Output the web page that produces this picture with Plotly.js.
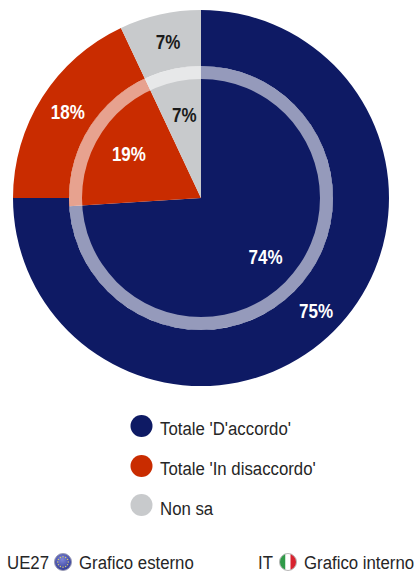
<!DOCTYPE html>
<html><head><meta charset="utf-8">
<script src="https://cdn.plot.ly/plotly-3.0.1.min.js"></script>
<style>html,body{margin:0;padding:0;background:#fff}#c{width:416px;height:572px}</style>
</head><body><div id="c"></div>
<script>
const categories = ["Totale 'D'accordo'", "Totale 'In disaccordo'", "Non sa"];
const outerValues = [75, 18, 7];
const innerValues = [74, 19, 7];
const colors = ['#0e1a64', '#c92c00', '#c8cacc'];
const labelColors = ['#ffffff', '#ffffff', '#1a1a1a'];
const legendX = [141.5, 141.5, 141.5];
const legendY = [426, 466, 505];
const legendTextY = [428, 468, 508];
const W = 416, H = 572, CX = 201, CY = 198;
const FONT = '"Liberation Sans", Arial, sans-serif';
function dom(r){return {x:[(CX-r)/W,(CX+r)/W], y:[1-(CY+r)/H,1-(CY-r)/H]};}
const pct = v => v.map(n => n + '%');
function pie(r, hole, vals, cols, text){
  return {type:'pie', values:vals, labels:categories, sort:false, direction:'clockwise', rotation:0,
    domain:dom(r), hole:hole, marker:{colors:cols, line:{width:0}},
    text:text||[], textinfo:text?'text':'none', textposition:text?'inside':'none',
    insidetextorientation:'horizontal', hoverinfo:'skip', showlegend:false,
    insidetextfont:{family:FONT,size:20,color:labelColors,weight:700}};
}
const clear = ['rgba(0,0,0,0)','rgba(0,0,0,0)','rgba(0,0,0,0)'];
const innerPct = pct(innerValues);
const traces = [
  pie(188, 132/188, outerValues, colors, pct(outerValues)),
  pie(132, 0, innerValues, colors),
  {type:'pie', values:[1], labels:['ring'], domain:dom(132), hole:119/132, sort:false,
   marker:{colors:['rgba(255,255,255,0.56)'], line:{width:0}}, textinfo:'none', textposition:'none', hoverinfo:'skip', showlegend:false},
  pie(119, 53/119, innerValues, clear, [innerPct[0], innerPct[1], '']),
  pie(104, 0.5, innerValues, clear, ['', '', innerPct[2]]),
  {type:'scatter', mode:'markers', x:legendX, y:legendY, xaxis:'x', yaxis:'y',
   marker:{size:22,color:colors,line:{width:0}}, cliponaxis:false, hoverinfo:'skip', showlegend:false}
];
const flagIT = '<svg xmlns="http://www.w3.org/2000/svg" width="36" height="36" viewBox="0 0 36 36"><defs><clipPath id="a"><circle cx="18" cy="18" r="17"/></clipPath></defs><g clip-path="url(#a)"><rect width="13" height="36" fill="#2f9a48"/><rect x="13" width="10" height="36" fill="#fff"/><rect x="23" width="13" height="36" fill="#d8232f"/></g><circle cx="18" cy="18" r="17" fill="none" stroke="#b8b8b8" stroke-width="2"/></svg>';
let stars='';
for(let k=0;k<12;k++){const a=k*Math.PI/6;stars+='<circle cx="'+(18+10.5*Math.cos(a))+'" cy="'+(18+10.5*Math.sin(a))+'" r="1.4" fill="#d8cf6a"/>';}
const flagEU = '<svg xmlns="http://www.w3.org/2000/svg" width="36" height="36" viewBox="0 0 36 36"><defs><radialGradient id="g" cx="45%" cy="35%" r="70%"><stop offset="0" stop-color="#7d86d8"/><stop offset="1" stop-color="#2b3391"/></radialGradient></defs><circle cx="18" cy="18" r="17" fill="url(#g)" stroke="#9a9cb5" stroke-width="2"/>'+stars+'</svg>';
const uri = s => 'data:image/svg+xml;base64,' + btoa(s);
const txt = (x,y,text) => ({xref:'x',yref:'y',x:x,y:y,text:text,showarrow:false,xanchor:'left',yanchor:'middle',
   font:{family:FONT,size:19,color:'#262626'}});
const layout = {
  width:W, height:H, margin:{l:0,r:0,t:0,b:0}, paper_bgcolor:'#fff', plot_bgcolor:'rgba(0,0,0,0)', showlegend:false,
  xaxis:{range:[0,W],visible:false,fixedrange:true}, yaxis:{range:[H,0],visible:false,fixedrange:true},
  annotations:[...categories.map((c,i)=>txt(158,legendTextY[i],c)),
    txt(5,562,'UE27'),txt(77,562,'Grafico esterno'),txt(256,562,'IT'),txt(301.5,562,'Grafico interno')],
  images:[
    {source:uri(flagEU),xref:'x',yref:'y',x:54,y:553,sizex:18,sizey:18,sizing:'stretch',xanchor:'left',yanchor:'top',layer:'above'},
    {source:uri(flagIT),xref:'x',yref:'y',x:279,y:553,sizex:18,sizey:18,sizing:'stretch',xanchor:'left',yanchor:'top',layer:'above'}
  ]
};
// The reference's lettering is condensed; squeeze the real text horizontally about an anchor.
function squeeze(el, k, anchor, nudge){
  const b = el.getBBox();
  const a = anchor === 'left' ? b.x : b.x + b.width / 2;
  const t = el.getAttribute('transform') || '';
  el.setAttribute('transform', t + ' translate(' + (a + nudge) + ',0) scale(' + k + ',1) translate(' + (-a) + ',0)');
}
const gd = document.getElementById('c');
Plotly.newPlot(gd, traces, layout, {displayModeBar:false, staticPlot:true}).then(() => {
  gd.querySelectorAll('.annotation-text').forEach(el => squeeze(el, 0.884, 'left', 0));
  gd.querySelectorAll('.slicetext text, text.slicetext').forEach(el => squeeze(el, 0.85, 'center', 2));
});
</script></body></html>
